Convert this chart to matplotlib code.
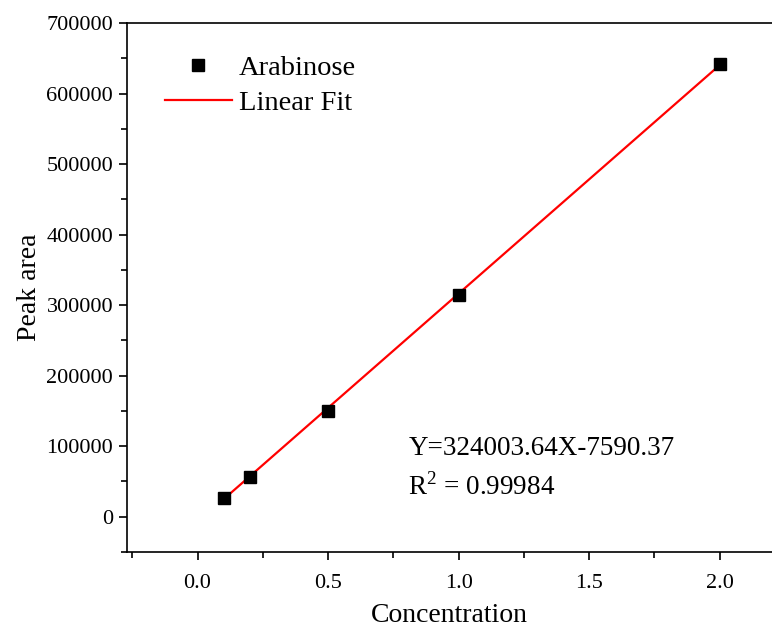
import matplotlib
matplotlib.use("Agg")
import matplotlib.pyplot as plt
from matplotlib.ticker import MultipleLocator
import numpy as np

plt.rcParams['font.family'] = ['Liberation Serif', 'DejaVu Serif']
plt.rcParams['mathtext.fontset'] = 'custom'
plt.rcParams['mathtext.rm'] = 'Liberation Serif'

# data
concentration = [0.1, 0.2, 0.5, 1.0, 2.0]
peak_area = [27000, 57000, 150000, 314000, 642000]
slope = 324003.64
intercept = -7590.37
r_squared = 0.99984

fig = plt.figure(figsize=(7.72, 6.3), dpi=100)
ax = fig.add_axes([127 / 772, 1 - 552 / 630, 1 - 127 / 772, (552 - 23) / 630])

ax.plot(concentration, peak_area, 's', color='black', markersize=8, label='Arabinose', zorder=3)
fit_x = np.array([min(concentration), max(concentration)])
ax.plot(fit_x, slope * fit_x + intercept, color='red', linewidth=1.6, label='Linear Fit', zorder=2)

ax.set_xlim(-0.27, 2.2)
ax.set_ylim(-50000, 700000)
ax.xaxis.set_major_locator(MultipleLocator(0.5))
ax.xaxis.set_minor_locator(MultipleLocator(0.25))
ax.yaxis.set_major_locator(MultipleLocator(100000))
ax.yaxis.set_minor_locator(MultipleLocator(50000))
ax.xaxis.set_major_formatter(plt.FuncFormatter(lambda v, p: f"{v:.1f}"))
ax.yaxis.set_major_formatter(plt.FuncFormatter(lambda v, p: f"{int(v)}"))

ax.spines['right'].set_visible(False)
for s in ['left', 'bottom', 'top']:
    ax.spines[s].set_linewidth(1.2)
ax.tick_params(which='major', direction='out', length=6, width=1.2, labelsize=16, pad=4)
ax.tick_params(which='minor', direction='out', length=4, width=1.2)
ax.tick_params(axis='x', pad=10)

ax.set_xlabel('Concentration', fontsize=20, labelpad=7)
ax.set_ylabel('Peak area', fontsize=20, labelpad=3)

ax.legend(loc='upper left', frameon=False, fontsize=20.5, handlelength=2.35,
          handletextpad=0.25, labelspacing=0.32, borderaxespad=0.3,
          bbox_to_anchor=(0.028, 0.977))

ax.text(0.807, 96500, f'Y={slope}X{intercept}', fontsize=19.5, va='center')
ax.text(0.807, 42600, r'R$^{\mathrm{2}}$ = ' + f'{r_squared}', fontsize=19.5, va='center')

fig.savefig('out.png', dpi=100)
